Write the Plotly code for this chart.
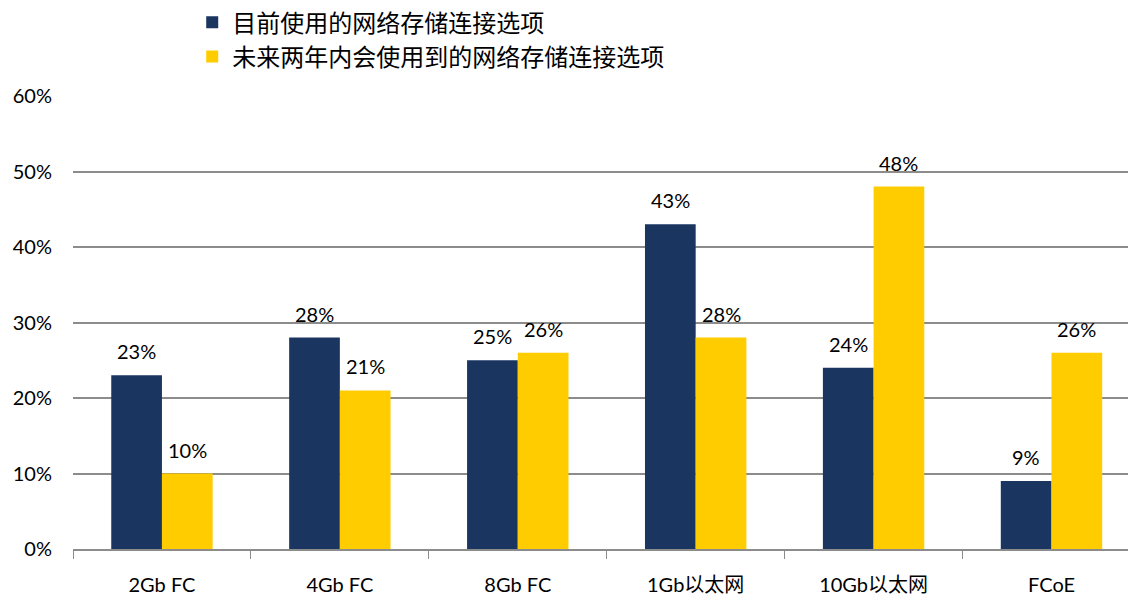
import plotly.graph_objects as go

categories = ["2Gb FC", "4Gb FC", "8Gb FC", "1Gb以太网", "10Gb以太网", "FCoE"]
current_vals = [23, 28, 25, 43, 24, 9]
future_vals = [10, 21, 26, 28, 48, 26]
series_names = ["目前使用的网络存储连接选项", "未来两年内会使用到的网络存储连接选项"]
y_ticks = [0, 10, 20, 30, 40, 50, 60]

latin = "Lato, 'Noto Sans CJK SC', sans-serif"
cjk = "'Noto Sans CJK SC', sans-serif"
colors = ["#1a3660", "#ffcc00"]

BARGAP = 0.43
PLOT_W = 1128 - 73
X_RANGE = [-0.5, 5.43]
cat_px = PLOT_W / (X_RANGE[1] - X_RANGE[0])
half_bar_px = cat_px * (1 - BARGAP) / 4

fig = go.Figure()
for name, vals, col in zip(series_names, [current_vals, future_vals], colors):
    fig.add_trace(go.Bar(
        x=categories, y=vals, name=name,
        marker=dict(color=col, line=dict(width=0)),
    ))

# value labels above bars, derived from the data arrays
for sign, vals in [(-1, current_vals), (1, future_vals)]:
    for c, v in zip(categories, vals):
        fig.add_annotation(
            x=c, y=v, text=f"{v}%", showarrow=False,
            xshift=sign * half_bar_px, yshift=24, yanchor="middle",
            font=dict(size=20, family=latin, color="#000000"),
        )

fig.update_layout(
    width=1128, height=595,
    margin=dict(l=73, r=0, t=96, b=46),
    paper_bgcolor="white", plot_bgcolor="white",
    barmode="group", bargap=BARGAP, bargroupgap=0,
    legend=dict(
        orientation="v", x=0.113, xanchor="left", y=1.037, yanchor="bottom",
        font=dict(size=24, family=cjk, color="#000000"),
        tracegroupgap=0, itemwidth=30,
        bgcolor="rgba(0,0,0,0)",
    ),
    showlegend=True,
)
fig.update_xaxes(
    range=X_RANGE, showgrid=False,
    showline=True, linecolor="#8c8c8c", linewidth=1.5,
    ticks="outside", tickson="boundaries", ticklen=8, tickcolor="#8c8c8c",
    tickfont=dict(size=20, family=latin, color="#000000"),
    ticklabelstandoff=17, automargin=False,
)
fig.update_yaxes(
    range=[0, 60], tickvals=y_ticks, ticktext=[f"{v}%" for v in y_ticks],
    showgrid=True, gridcolor="#8c8c8c", gridwidth=1.5,
    zeroline=False, showline=False,
    tickfont=dict(size=20, family=latin, color="#000000"),
    ticklabelstandoff=20, automargin=False,
)

fig.write_html(
    "out.html",
    config={"displayModeBar": False},
    post_script="document.body.style.margin='0';document.body.style.overflow='hidden';",
)
